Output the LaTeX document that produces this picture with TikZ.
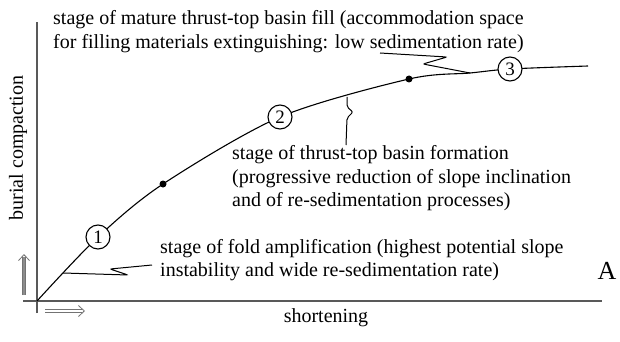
\documentclass[tikz,border=0pt]{standalone}
\usepackage{fontspec}
\setmainfont{Liberation Serif}
\usetikzlibrary{arrows.meta}

\begin{document}
\begin{tikzpicture}
    [x=1pt, y=-1pt,
     every node/.style={font=\fontsize{20}{23.5}\selectfont},
     stagenum/.style={circle, draw, fill=white, line width=1.1pt, inner sep=0pt, minimum size=24pt, font=\fontsize{19}{19}\selectfont},
     blackdot/.style={circle, fill, inner sep=0pt, minimum size=7pt},
     stagetext/.style={anchor=west, align=left, inner sep=0pt},
     axis/.style={line width=2pt, black!65},
     leader/.style={line width=1pt, rounded corners=2pt},
     trend/.style={draw=black!55, line width=0.8pt, double distance=2.4pt, shorten >=2.6pt},
     trendhead/.style={draw=black!55, line width=0.8pt, -{Straight Barb[length=6pt, width=11pt]}}]
    \useasboundingbox (0,0) rectangle (620,342);

    % axes
    \coordinate (o) at (37,301);
    \coordinate (xend) at (602,301);
    \coordinate (xstart) at (23,301);
    \coordinate (ytop) at (37,22);
    \coordinate (ybot) at (37,313);
    \draw[axis] (xstart) -- (xend);
    \draw[axis] (ybot) -- (ytop);

    % points on the curve
    \coordinate (p1) at (98,237);
    \coordinate (q1) at (163,184);
    \coordinate (p2) at (280,117);
    \coordinate (q2) at (409,79);
    \coordinate (p3) at (510,69);
    \coordinate (cend) at (588,66);
    \coordinate (l1) at (63,273);
    \coordinate (l2) at (347,97);
    \coordinate (l3) at (470,73);

    \draw[line width=1.1pt] plot[smooth, tension=0.5] coordinates {(o) (p1) (q1) (p2) (q2) (l3) (p3) (cend)};

    \node[blackdot] (d1) at (q1) {};
    \node[blackdot] (d2) at (q2) {};
    \node[stagenum] (n1) at (p1) {1};
    \node[stagenum] (n2) at (p2) {2};
    \node[stagenum] (n3) at (p3) {3};

    % stage texts
    \node[stagetext] (s3) at (53,31.5) {stage of mature thrust-top basin fill (accommodation space\\for filling materials extinguishing: low sedimentation rate)};
    \node[stagetext] (s2) at (232,178.5) {stage of thrust-top basin formation\\(progressive reduction of slope inclination\\and of re-sedimentation processes)};
    \node[stagetext] (s1) at (160,260) {stage of fold amplification (highest potential slope\\instability and wide re-sedimentation rate)};

    % leaders
    \coordinate (e1) at (152,265);
    \coordinate (e2) at (346,145);
    \coordinate (e3) at (380,53);
    \draw[leader] (l1) -- (128,275) -- (110,269) -- (e1);
    \draw[leader] (l2) -- (347,107) -- (353,112) -- (347,118) -- (e2);
    \draw[leader] (l3) -- (423,64) -- (447,57) -- (e3);

    % axis labels
    \node[rotate=90] (ylab) at (18,148) {burial compaction};
    \node (xlab) at (326,318) {shortening};
    \node[font=\fontsize{26}{26}\selectfont] (panel) at (607,271) {A};

    % trend arrows
    \coordinate (ua) at (24,295);
    \coordinate (ub) at (24,254);
    \coordinate (ubh) at (24,256);
    \coordinate (ra) at (45,311);
    \coordinate (rb) at (85,311);
    \coordinate (rbh) at (83,311);
    \draw[trend, double=black!45] (ua) -- (ub);
    \draw[trendhead] (ubh) -- (ub);
    \draw[trend, double=white] (ra) -- (rb);
    \draw[trendhead] (rbh) -- (rb);
\end{tikzpicture}
\end{document}
